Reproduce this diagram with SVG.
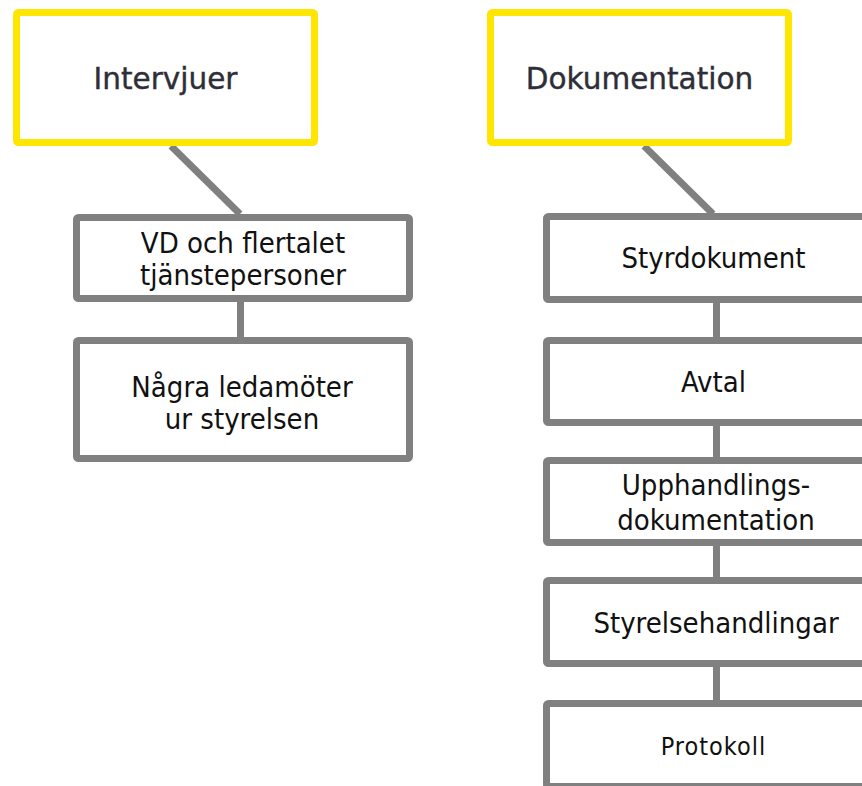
<svg xmlns="http://www.w3.org/2000/svg" width="862" height="786" viewBox="0 0 862 786">
<style>
.title{fill:#fff;stroke:#ffe600;stroke-width:7}
.box{fill:#fff;stroke:#808080;stroke-width:7}
.conn{stroke:#808080;stroke-width:7;fill:none}
.tt{font-family:"DejaVu Sans",sans-serif;font-size:29.5px;fill:#2e2e38;stroke:#2e2e38;stroke-width:0.4;text-anchor:middle}
.t{font-family:"DejaVu Sans Condensed","DejaVu Sans",sans-serif;font-stretch:condensed;font-size:29px;fill:#111;text-anchor:middle}
.ts{font-family:"DejaVu Sans Condensed","DejaVu Sans",sans-serif;font-stretch:condensed;font-size:25px;letter-spacing:1px;fill:#111;text-anchor:middle}
</style>
<rect width="862" height="786" fill="#fff"/>
<g id="connectors">
<line class="conn" x1="171" y1="146" x2="240" y2="214"/>
<line class="conn" x1="240.5" y1="302" x2="240.5" y2="337"/>
<line class="conn" x1="644" y1="146" x2="713" y2="214"/>
<line class="conn" x1="716.5" y1="303" x2="716.5" y2="337"/>
<line class="conn" x1="716.5" y1="426" x2="716.5" y2="457"/>
<line class="conn" x1="716.5" y1="546" x2="716.5" y2="577"/>
<line class="conn" x1="716.5" y1="667" x2="716.5" y2="700"/>
</g>
<g id="intervjuer">
<rect class="title" x="16.5" y="12.5" width="298" height="130" rx="2"/>
<text class="tt" x="165.5" y="89">Intervjuer</text>
</g>
<g id="vd">
<rect class="box" x="76.5" y="217.5" width="333" height="81" rx="2"/>
<text class="t" x="243" y="253">VD och flertalet</text>
<text class="t" x="243" y="285">tjänstepersoner</text>
</g>
<g id="ledamoter">
<rect class="box" x="76.5" y="340.5" width="333" height="118" rx="2"/>
<text class="t" x="242" y="397">Några ledamöter</text>
<text class="t" x="242" y="428.5">ur styrelsen</text>
</g>
<g id="dokumentation">
<rect class="title" x="490.5" y="12.5" width="298" height="130" rx="2"/>
<text class="tt" x="639.5" y="89">Dokumentation</text>
</g>
<g id="styrdokument">
<rect class="box" x="546.5" y="216.5" width="333" height="83" rx="2"/>
<text class="t" x="713.5" y="268">Styrdokument</text>
</g>
<g id="avtal">
<rect class="box" x="546.5" y="340.5" width="333" height="82" rx="2"/>
<text class="t" x="713.5" y="392">Avtal</text>
</g>
<g id="upphandling">
<rect class="box" x="546.5" y="460.5" width="333" height="82" rx="2"/>
<text class="t" x="716" y="495">Upphandlings-</text>
<text class="t" x="716" y="530">dokumentation</text>
</g>
<g id="styrelsehandlingar">
<rect class="box" x="546.5" y="580.5" width="333" height="83" rx="2"/>
<text class="t" x="716" y="633">Styrelsehandlingar</text>
</g>
<g id="protokoll">
<rect class="box" x="546.5" y="703.5" width="333" height="83" rx="2"/>
<text class="ts" x="713.5" y="755">Protokoll</text>
</g>
</svg>
